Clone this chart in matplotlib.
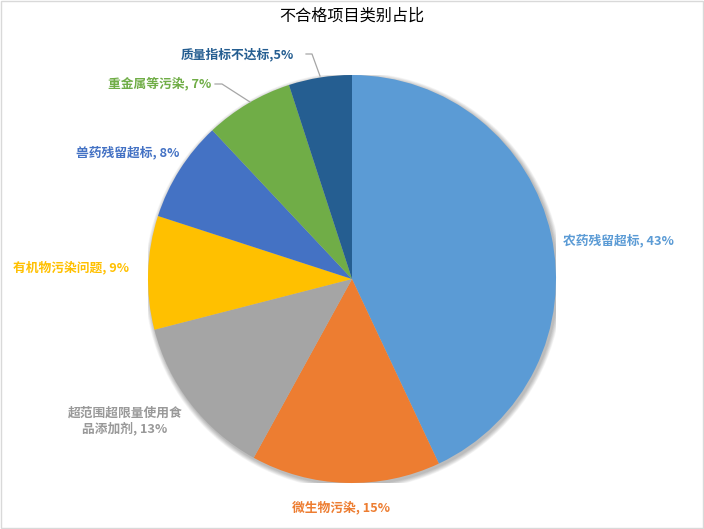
import matplotlib
matplotlib.use("Agg")
import matplotlib.pyplot as plt
from matplotlib.patches import Rectangle, Circle

plt.rcParams['font.family'] = ['Noto Sans CJK SC', 'DejaVu Sans']

categories = ['农药残留超标', '微生物污染', '超范围超限量使用食\n品添加剂', '有机物污染问题',
              '兽药残留超标', '重金属等污染', '质量指标不达标']
values = [43, 15, 13, 9, 8, 7, 5]
colors = ['#5B9BD5', '#ED7D31', '#A5A5A5', '#FFC000', '#4472C4', '#70AD47', '#255E91']
label_colors = ['#5B9BD5', '#ED7D31', '#999999', '#FFC000', '#4472C4', '#70AD47', '#255E91']
title = '不合格项目类别占比'

W, H = 704, 529
fig = plt.figure(figsize=(W / 100, H / 100), dpi=100)
fig.patches.append(Rectangle((0.001, 0.001), 0.997, 0.997, transform=fig.transFigure,
                             fill=False, edgecolor='#D9D9D9', linewidth=1))

cx, cy, r = 352, 279, 204
ax = fig.add_axes([(cx - r) / W, (H - cy - r) / H, 2 * r / W, 2 * r / H])

# soft shadow
for i in range(8):
    ax.add_patch(Circle((1.5 / r, -2.0 / r), 1.0 + (8 - i) * 0.6 / r, color='black',
                        alpha=0.035, lw=0, zorder=0))

ax.pie(values, colors=colors, startangle=90, counterclock=False, radius=1.0,
       wedgeprops=dict(linewidth=0, zorder=2))
ax.set_xlim(-1, 1)
ax.set_ylim(-1, 1)
ax.set_aspect('equal')
ax.axis('off')

def px(x, y):
    return ((x - cx) / r, (cy - y) / r)

# label anchor positions (pixels) and alignments
label_pos = [(563, 241, 'left'),
             (341, 507, 'center'),
             (125, 421, 'center'),
             (129, 268, 'right'),
             (179, 153, 'right'),
             (211, 84, 'right'),
             (294, 55, 'right')]
seps = [', ', ', ', ', ', ', ', ', ', ', ', ',']
for cat, v, lc, (x, y, ha), sep in zip(categories, values, label_colors, label_pos, seps):
    tx, ty = px(x, y)
    ax.text(tx, ty, f'{cat}{sep}{v}%', color=lc, fontsize=9.2, fontweight='bold',
            ha=ha, va='center', multialignment='center', linespacing=1.25)

# leader lines for small slices
for (x0, y0), (x1, y1), (x2, y2) in [((215, 84), (222, 84), (250, 102)),
                                      ((306, 54), (312, 54), (320, 76))]:
    p0, p1, p2 = px(x0, y0), px(x1, y1), px(x2, y2)
    ax.plot([p0[0], p1[0], p2[0]], [p0[1], p1[1], p2[1]], color='#A6A6A6', lw=0.9,
            clip_on=False, zorder=3)

fig.text(0.5, 1 - 16 / H, title, ha='center', va='center', fontsize=11.6, color='black')

fig.savefig('out.png', dpi=100)
